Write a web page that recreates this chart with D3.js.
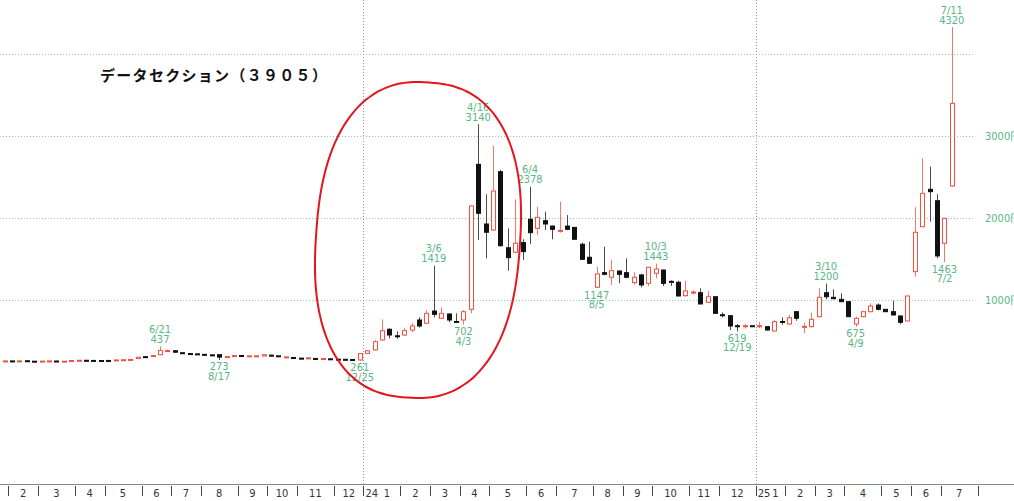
<!DOCTYPE html>
<html>
<head>
<meta charset="utf-8">
<script src="https://cdn.jsdelivr.net/npm/d3@7"></script>
<style>
  body { margin: 0; background: #fff; }
  svg { display: block; }
</style>
</head>
<body>
<div id="chart"></div>
<script>
// weekly candles, first week starts Mon 2023-01-23
const startWeek = new Date(2023, 0, 23);
const axisEnd = new Date(2025, 7, 11);

const opens = [256,260,257,262,257,254,257,259,254,258,
  264,268,266,265,266,268,272,274,288,312,
  318,335,382,384,360,350,346,340,334,336,
  308,322,326,318,318,320,330,322,306,302,
  294,294,290,286,286,282,280,277,272,352,
  394,515,645,566,575,636,758,718,867,779,
  831,740,758,888,2652,1926,1853,2562,1637,1582,
  1699,1983,1873,1966,1901,1838,1901,1885,1679,1521,
  1156,1334,1278,1354,1334,1212,1306,1204,1326,1366,
  1228,1217,1054,1092,1090,973,1041,822,810,688,
  682,688,682,677,624,740,709,859,675,677,
  798,1090,1034,1010,981,709,798,859,940,888,
  859,807,746,1346,1893,2348,2209,1691,2388];
const closes = [260,257,261,256,254,258,260,255,257,265,
  268,265,264,264,265,272,275,278,305,310,
  325,385,386,366,352,346,343,336,331,306,
  313,325,322,322,322,336,327,318,309,298,
  291,297,287,289,282,279,276,272,350,384,
  494,628,575,560,628,685,685,839,827,839,
  758,737,859,2146,2056,1825,2327,1662,1516,1691,
  1589,1820,2007,1926,1861,1848,1861,1740,1496,1448,
  1318,1314,1358,1314,1278,1278,1184,1399,1378,1204,
  1220,1050,1111,1098,953,1041,839,816,685,682,
  688,684,688,636,737,734,786,779,680,766,
  1034,1041,1017,981,798,779,859,928,888,859,
  819,730,1050,1825,2299,2319,1537,1995,3394];
const highs = [262,262,263,263,258,259,262,261,259,267,
  270,269,268,267,268,274,277,280,310,318,
  330,437,400,392,364,352,348,346,336,338,
  316,332,328,324,324,340,336,324,316,304,
  300,304,296,291,288,284,282,280,353,392,
  515,766,657,620,664,720,790,880,1419,912,
  840,839,880,2150,3140,2287,2875,2583,1873,2226,
  1740,2378,2136,2075,1905,2197,2035,1890,1700,1711,
  1406,1650,1488,1360,1508,1338,1320,1405,1443,1370,
  1240,1236,1236,1120,1143,1110,1045,850,815,709,
  712,690,735,680,760,790,820,865,725,847,
  1143,1200,1131,1083,985,800,865,961,960,892,
  993,810,1055,2129,2725,2623,2287,2000,4320];
const lows = [254,255,255,254,252,252,255,253,252,256,
  262,263,262,262,263,266,270,272,285,302,
  315,330,370,360,348,344,340,330,328,273,
  306,316,318,316,316,316,320,315,300,295,
  284,288,280,284,278,275,272,265,261,344,
  384,506,535,530,565,610,665,710,791,770,
  730,735,702,839,1731,1508,1840,1650,1358,1570,
  1488,1683,1792,1853,1740,1820,1850,1735,1490,1440,
  1147,1300,1184,1204,1265,1190,1156,1170,1265,1172,
  1172,1045,1040,1070,950,965,835,790,636,619,
  655,680,660,630,620,700,700,749,598,665,
  790,1010,1010,975,795,675,790,850,875,855,
  815,706,740,1285,1890,1954,1508,1463,2380];

// marked highs / lows: week index, date text, kind
const markIndex = [21, 29, 48, 58, 62, 64, 71, 80, 88, 99, 111, 115, 127, 128];
const markDate  = ["6/21","8/17","12/25","3/6","4/3","4/16","6/4","8/5","10/3","12/19","3/10","4/9","7/2","7/11"];
const markKind  = ["high","low","low","high","low","high","high","low","high","low","high","low","low","high"];

const gridPrices = [1000, 2000, 3000, 4000];
const gridLabels = ["1000円", "2000円", "3000円"];
const title = "データセクション（３９０５）";

const width = 1014, height = 501;
const red = "#f0503c", redWick = "#f4786a", green = "#5ab585";
const narrow = "'Liberation Sans Narrow', 'DejaVu Sans Condensed', sans-serif";

const svg = d3.select("#chart").append("svg")
  .attr("width", width)
  .attr("height", height);

const weeks = d3.timeMonday.range(startWeek, axisEnd);
const xScale = d3.scaleLinear().domain([0, 128]).range([4.6, 951.8]);
const yScale = d3.scaleLinear().domain([0, 4000]).range([382.3, 53.5]);
const X = i => xScale(i);

// grid lines
svg.append("g").selectAll("line")
  .data(gridPrices)
  .join("line")
    .attr("x1", 0).attr("x2", 975)
    .attr("y1", d => Math.round(yScale(d)) + 0.5)
    .attr("y2", d => Math.round(yScale(d)) + 0.5)
    .attr("stroke", "#8ccbb3")
    .attr("stroke-dasharray", "1,2");

svg.append("g").selectAll("text")
  .data(gridLabels)
  .join("text")
    .attr("x", 985)
    .attr("y", (d, i) => yScale(gridPrices[i]) + 4)
    .attr("fill", green)
    .attr("font-family", narrow)
    .attr("font-size", 11)
    .text(d => d);

// month of a week = month of its middle trading day (year-end holidays skipped)
function weekMonth(monday) {
  const days = d3.range(5).map(k => d3.timeDay.offset(monday, k))
    .filter(d => !((d.getMonth() === 11 && d.getDate() === 31) || (d.getMonth() === 0 && d.getDate() <= 3)));
  const mid = days[Math.floor((days.length - 1) / 2)];
  return mid.getFullYear() * 12 + mid.getMonth();
}

let bounds = [];
for (let i = 1; i < weeks.length; i++) {
  const k = weekMonth(weeks[i]);
  if (k !== weekMonth(weeks[i - 1])) bounds.push({ i: i, key: k, x: X(i - 0.5) });
}

// year dividers
const yearBounds = bounds.filter(b => b.key % 12 === 0);
svg.append("g").selectAll("line")
  .data(yearBounds)
  .join("line")
    .attr("x1", d => Math.round(d.x) + 0.5).attr("x2", d => Math.round(d.x) + 0.5)
    .attr("y1", 0).attr("y2", 484)
    .attr("stroke", "#9a9a9a")
    .attr("stroke-dasharray", "1,2");

// candles
const candles = opens.map((o, i) => ({ i: i, o: o, c: closes[i], h: highs[i], l: lows[i], up: closes[i] >= o }));

const cg = svg.append("g");
cg.selectAll("line")
  .data(candles)
  .join("line")
    .attr("x1", d => Math.round(X(d.i)) + 0.5)
    .attr("x2", d => Math.round(X(d.i)) + 0.5)
    .attr("y1", d => yScale(d.h))
    .attr("y2", d => yScale(d.l))
    .attr("stroke", d => d.up ? redWick : "#4a4a4a")
    .attr("stroke-width", 1);

cg.selectAll("rect")
  .data(candles)
  .join("rect")
    .attr("x", d => Math.round(X(d.i)) - 1.5)
    .attr("width", 4)
    .attr("y", d => yScale(Math.max(d.o, d.c)))
    .attr("height", d => Math.max(1, yScale(Math.min(d.o, d.c)) - yScale(Math.max(d.o, d.c))))
    .attr("fill", d => d.up ? "#fff" : "#111")
    .attr("stroke", d => d.up ? red : "#111")
    .attr("stroke-width", 1);

// high / low labels
const marks = markIndex.map((i, k) => ({ i: i, date: markDate[k], kind: markKind[k],
  price: markKind[k] === "high" ? highs[i] : lows[i] }));

const mg = svg.append("g")
  .attr("font-family", narrow)
  .attr("font-size", 11)
  .attr("fill", green)
  .attr("text-anchor", "middle");

marks.forEach(m => {
  const x = X(m.i);
  const y = yScale(m.price);
  if (m.kind === "high") {
    mg.append("text").attr("x", x).attr("y", y - 13.5).text(m.date);
    mg.append("text").attr("x", x).attr("y", y - 3.5).text(m.price);
  } else {
    mg.append("text").attr("x", x).attr("y", y + 10.5).text(m.price);
    mg.append("text").attr("x", x).attr("y", y + 20).text(m.date);
  }
});

// red hand-drawn circle: slightly squared, slightly tilted ellipse
const ring = { cx: 418, cy: 240, rx: 102, ry: 158, n: 2.4, tilt: 4 * Math.PI / 180 };
const ringPts = d3.range(0, 2 * Math.PI, Math.PI / 60).map(t => {
  const c = Math.cos(t), s = Math.sin(t);
  const u = ring.rx * Math.sign(c) * Math.pow(Math.abs(c), 2 / ring.n);
  const v = ring.ry * Math.sign(s) * Math.pow(Math.abs(s), 2 / ring.n);
  return [ring.cx + u * Math.cos(ring.tilt) - v * Math.sin(ring.tilt),
          ring.cy + u * Math.sin(ring.tilt) + v * Math.cos(ring.tilt)];
});
svg.append("path")
  .attr("d", d3.line().curve(d3.curveCatmullRomClosed)(ringPts))
  .attr("fill", "none")
  .attr("stroke", "#e3161c")
  .attr("stroke-width", 2);

// title
svg.append("text")
  .attr("x", 100)
  .attr("y", 81)
  .attr("font-family", "'Noto Sans CJK JP', sans-serif")
  .attr("font-weight", "bold")
  .attr("font-size", 15)
  .attr("letter-spacing", 1.3)
  .attr("fill", "#111")
  .text(title);

// bottom month axis
const ax = svg.append("g");
ax.append("line")
  .attr("x1", 0).attr("x2", width)
  .attr("y1", 484.5).attr("y2", 484.5)
  .attr("stroke", "#8a8a8a");

ax.selectAll("line.tick")
  .data(bounds)
  .join("line")
    .attr("class", "tick")
    .attr("x1", d => Math.round(d.x) + 0.5).attr("x2", d => Math.round(d.x) + 0.5)
    .attr("y1", 486).attr("y2", 496)
    .attr("stroke", "#444");

const monthLabels = [];
for (let k = 0; k < bounds.length - 1; k++) {
  const m = bounds[k].key % 12 + 1;
  const cx = (bounds[k].x + bounds[k + 1].x) / 2;
  monthLabels.push({ text: String(m), x: m === 1 ? cx + 5 : cx, anchor: "middle" });
  if (m === 1) {
    monthLabels.push({ text: String(Math.floor(bounds[k].key / 12) % 100), x: bounds[k].x + 2, anchor: "start" });
  }
}

ax.selectAll("text")
  .data(monthLabels)
  .join("text")
    .attr("x", d => d.x)
    .attr("y", 497)
    .attr("text-anchor", d => d.anchor)
    .attr("font-family", narrow)
    .attr("font-size", 11)
    .attr("fill", "#333")
    .text(d => d.text);
</script>
</body>
</html>
